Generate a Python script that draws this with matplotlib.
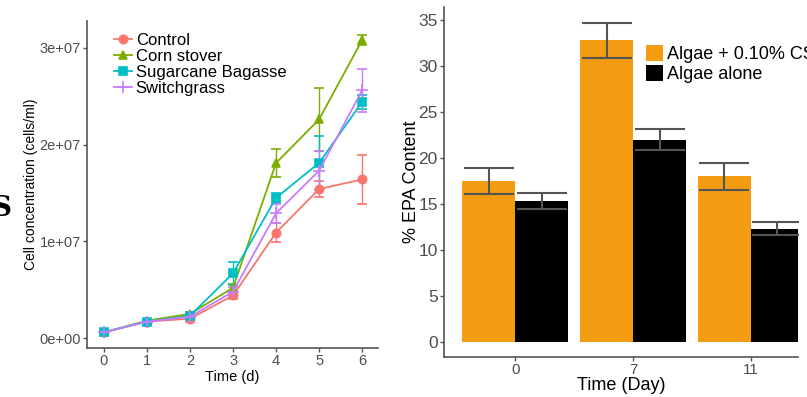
import matplotlib
matplotlib.use("Agg")
import matplotlib.pyplot as plt
from matplotlib.lines import Line2D
import numpy as np

plt.rcParams["font.family"] = ["Liberation Sans", "DejaVu Sans"]

# left panel: cell growth
days = [0, 1, 2, 3, 4, 5, 6]
series = ["Control", "Corn stover", "Sugarcane Bagasse", "Switchgrass"]
colors = ["#F8766D", "#7CAE00", "#00BFC4", "#C77CFF"]
markers = ["o", "^", "s", "+"]
control = [0.6e6, 1.7e6, 2.0e6, 4.4e6, 10.9e6, 15.4e6, 16.4e6]
control_err = [0.1e6, 0.1e6, 0.3e6, 0.4e6, 1.0e6, 0.8e6, 2.5e6]
corn = [0.6e6, 1.8e6, 2.5e6, 5.2e6, 18.1e6, 22.6e6, 30.8e6]
corn_err = [0.1e6, 0.1e6, 0.2e6, 0.4e6, 1.4e6, 3.3e6, 0.5e6]
cane = [0.6e6, 1.7e6, 2.3e6, 6.7e6, 14.5e6, 18.1e6, 24.4e6]
cane_err = [0.1e6, 0.1e6, 0.2e6, 1.2e6, 0.5e6, 2.8e6, 0.7e6]
switch = [0.6e6, 1.7e6, 2.2e6, 4.8e6, 12.9e6, 17.3e6, 25.6e6]
switch_err = [0.1e6, 0.1e6, 0.2e6, 0.5e6, 1.0e6, 2.0e6, 2.2e6]

# right panel: EPA content
groups = ["0", "7", "11"]
cs_vals = [17.5, 32.8, 18.0]
cs_err = [1.45, 1.9, 1.5]
alone_vals = [15.3, 22.0, 12.3]
alone_err = [0.9, 1.1, 0.7]

W, H = 807, 397
fig = plt.figure(figsize=(W / 100, H / 100), dpi=100)
gray = "#4D4D4D"


def px_axes(x0, y0, x1, y1):
    return fig.add_axes([x0 / W, 1 - y1 / H, (x1 - x0) / W, (y1 - y0) / H])


def style(ax, fs):
    for s in ["top", "right"]:
        ax.spines[s].set_visible(False)
    for s in ["left", "bottom"]:
        ax.spines[s].set_color("#555555")
        ax.spines[s].set_linewidth(1.2)
    ax.tick_params(colors="#555555", labelcolor=gray, labelsize=fs,
                   length=3, width=1, pad=1.5)


# ---- left ----
ax1 = px_axes(87, 21, 378, 348)
ys = [control, corn, cane, switch]
errs = [control_err, corn_err, cane_err, switch_err]
handles = []
for name, c, m, y, e in zip(series, colors, markers, ys, errs):
    ms = 6 if m != "+" else 9
    ax1.errorbar(days, y, yerr=e, color=c, marker=m, markersize=ms,
                 lw=1.3, capsize=3.5, elinewidth=1, mew=1.2)
    handles.append(Line2D([], [], color=c, marker=m, markersize=ms, lw=1.3,
                          mew=1.2, label=name))
ax1.set_xlim(-0.395, 6.37)
ax1.set_ylim(-0.103e7, 3.278e7)
ax1.set_xticks(days)
ax1.set_yticks([0, 1e7, 2e7, 3e7])
ax1.set_yticklabels(["0e+00", "1e+07", "2e+07", "3e+07"])
style(ax1, 10.5)
ax1.set_xlabel("Time (d)", fontsize=10.5, labelpad=1)
ax1.set_ylabel("Cell concentration (cells/ml)", fontsize=10, labelpad=1)
ax1.legend(handles=handles, loc="upper left", bbox_to_anchor=(114 / W, 1 - 33 / H),
           bbox_transform=fig.transFigure, frameon=False, fontsize=12,
           handlelength=1.1, handletextpad=0.2, labelspacing=0.05,
           borderpad=0, borderaxespad=0)

# cropped panel letter at left edge
fig.text(-9 / W, 1 - 208 / H, "S", fontsize=20, fontweight="bold",
         family="DejaVu Serif", ha="left", va="center")

# ---- right ----
ax2 = px_axes(444, 7, 798, 357)
x = np.arange(len(groups))
bw = 0.45
ax2.bar(x - bw / 2, cs_vals, bw, color="#F39C12", label="Algae + 0.10% CS")
ax2.bar(x + bw / 2, alone_vals, bw, color="black", label="Algae alone")
cap = bw / 2 * 110.5 * 0.72
ax2.errorbar(x - bw / 2, cs_vals, yerr=cs_err, fmt="none", ecolor="#555555",
             elinewidth=1.5, capsize=cap, capthick=1.5)
ax2.errorbar(x + bw / 2, alone_vals, yerr=alone_err, fmt="none", ecolor="#555555",
             elinewidth=1.5, capsize=cap, capthick=1.5)
ax2.set_xlim(-0.606, 2.40)
ax2.set_ylim(-1.63, 36.4)
ax2.set_xticks(x)
ax2.set_xticklabels(groups)
ax2.set_yticks(range(0, 36, 5))
style(ax2, 12.5)
ax2.tick_params(axis="x", labelsize=11)
ax2.set_xlabel("Time (Day)", fontsize=13, labelpad=0)
ax2.set_ylabel("% EPA Content", fontsize=13, labelpad=-1)
ax2.legend(loc="upper left", bbox_to_anchor=(646 / W, 1 - 45 / H),
           bbox_transform=fig.transFigure, frameon=False, fontsize=13,
           handlelength=0.95, handleheight=1.0, handletextpad=0.2,
           labelspacing=0.1, borderpad=0, borderaxespad=0)

fig.savefig("out.png", dpi=100)
